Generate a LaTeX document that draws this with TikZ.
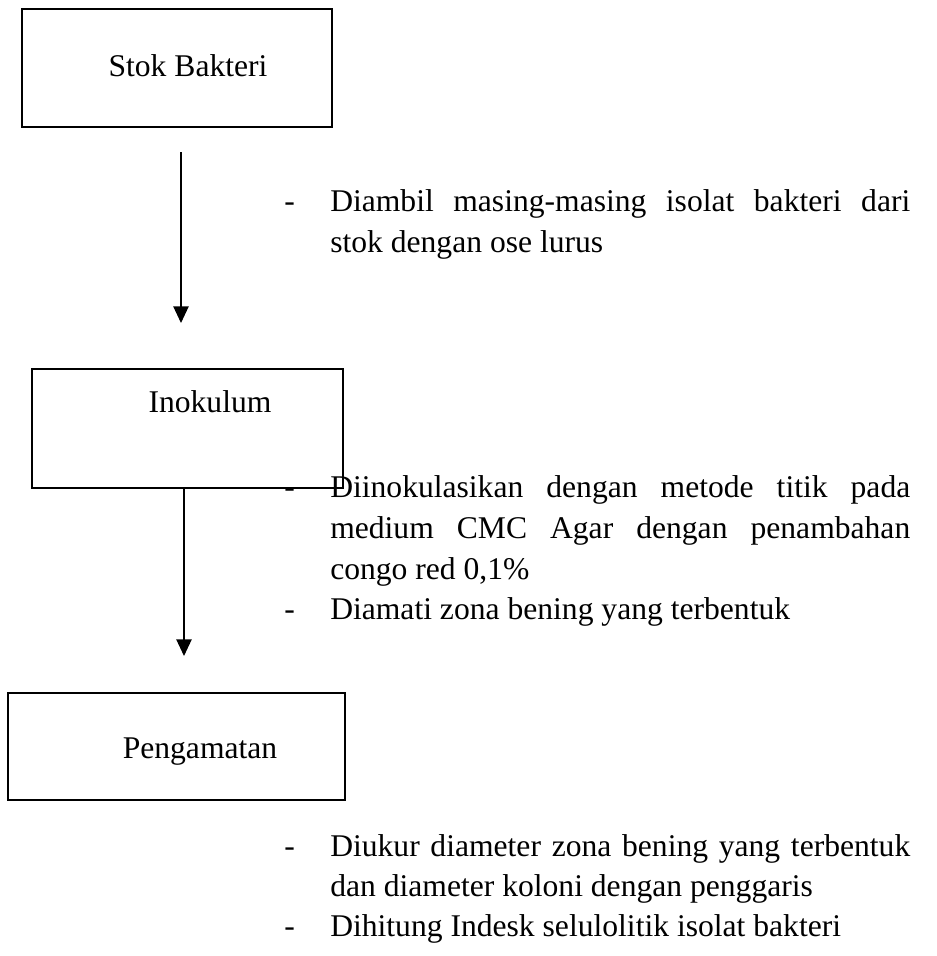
\documentclass[tikz,border=0pt]{standalone}
\usepackage{fontspec}
\setmainfont{Liberation Serif}
\usetikzlibrary{arrows.meta}
\tikzset{
  stepbox/.style={draw, line width=1.5pt, inner sep=0pt},
  flow/.style={line width=1pt, -{Triangle[width=11.5pt,length=12.5pt]}},
  txt/.style={anchor=base west, inner sep=0pt, font=\fontsize{23.7}{30}\selectfont},
  lbl/.style={anchor=center, inner sep=0pt, font=\fontsize{23.7}{30}\selectfont},
}
\newcommand{\jline}[1]{\makebox[435pt][s]{#1}}
\begin{document}
\begin{tikzpicture}[x=0.75pt,y=-0.75pt]
\useasboundingbox (0,0) rectangle (937,956);
% boxes
\node[stepbox, minimum width=232.5pt, minimum height=88.5pt] (b1) at (177,68) {};
\node[lbl] (t1) at (188,66) {Stok Bakteri};
\node[stepbox, minimum width=233.25pt, minimum height=89.25pt] (b2) at (187.5,428) {};
\node[lbl] (t2) at (210,402) {Inokulum};
\node[stepbox, line width=1.9pt, minimum width=252.75pt, minimum height=80.25pt] (b3) at (176.5,746.5) {};
\node[lbl] (t3) at (200,752) {Pengamatan};
% arrows
\coordinate (a1s) at (181,152);
\coordinate (a1e) at (181,323);
\coordinate (a2s) at (184,488);
\coordinate (a2e) at (184,656);
\draw[flow] (a1s) -- (a1e);
\draw[flow] (a2s) -- (a2e);
% block 1
\node[txt] (d1) at (284,211) {-};
\node[txt] (p1a) at (330,211) {\jline{Diambil masing-masing isolat bakteri dari}};
\node[txt] (p1b) at (330,252) {stok dengan ose lurus};
% block 2
\node[txt] (d2) at (284,497) {-};
\node[txt] (p2a) at (330,497) {\jline{Diinokulasikan dengan metode titik pada}};
\node[txt] (p2b) at (330,538) {\jline{medium CMC Agar dengan penambahan}};
\node[txt] (p2c) at (330,579) {congo red 0,1\%};
\node[txt] (d3) at (284,619) {-};
\node[txt] (p3) at (330,619) {Diamati zona bening yang terbentuk};
% block 3
\node[txt] (d4) at (284,856) {-};
\node[txt] (p4a) at (330,856) {\jline{Diukur diameter zona bening yang terbentuk}};
\node[txt] (p4b) at (330,896) {dan diameter koloni dengan penggaris};
\node[txt] (d5) at (284,936) {-};
\node[txt] (p5) at (330,936) {Dihitung Indesk selulolitik isolat bakteri};
\end{tikzpicture}
\end{document}
